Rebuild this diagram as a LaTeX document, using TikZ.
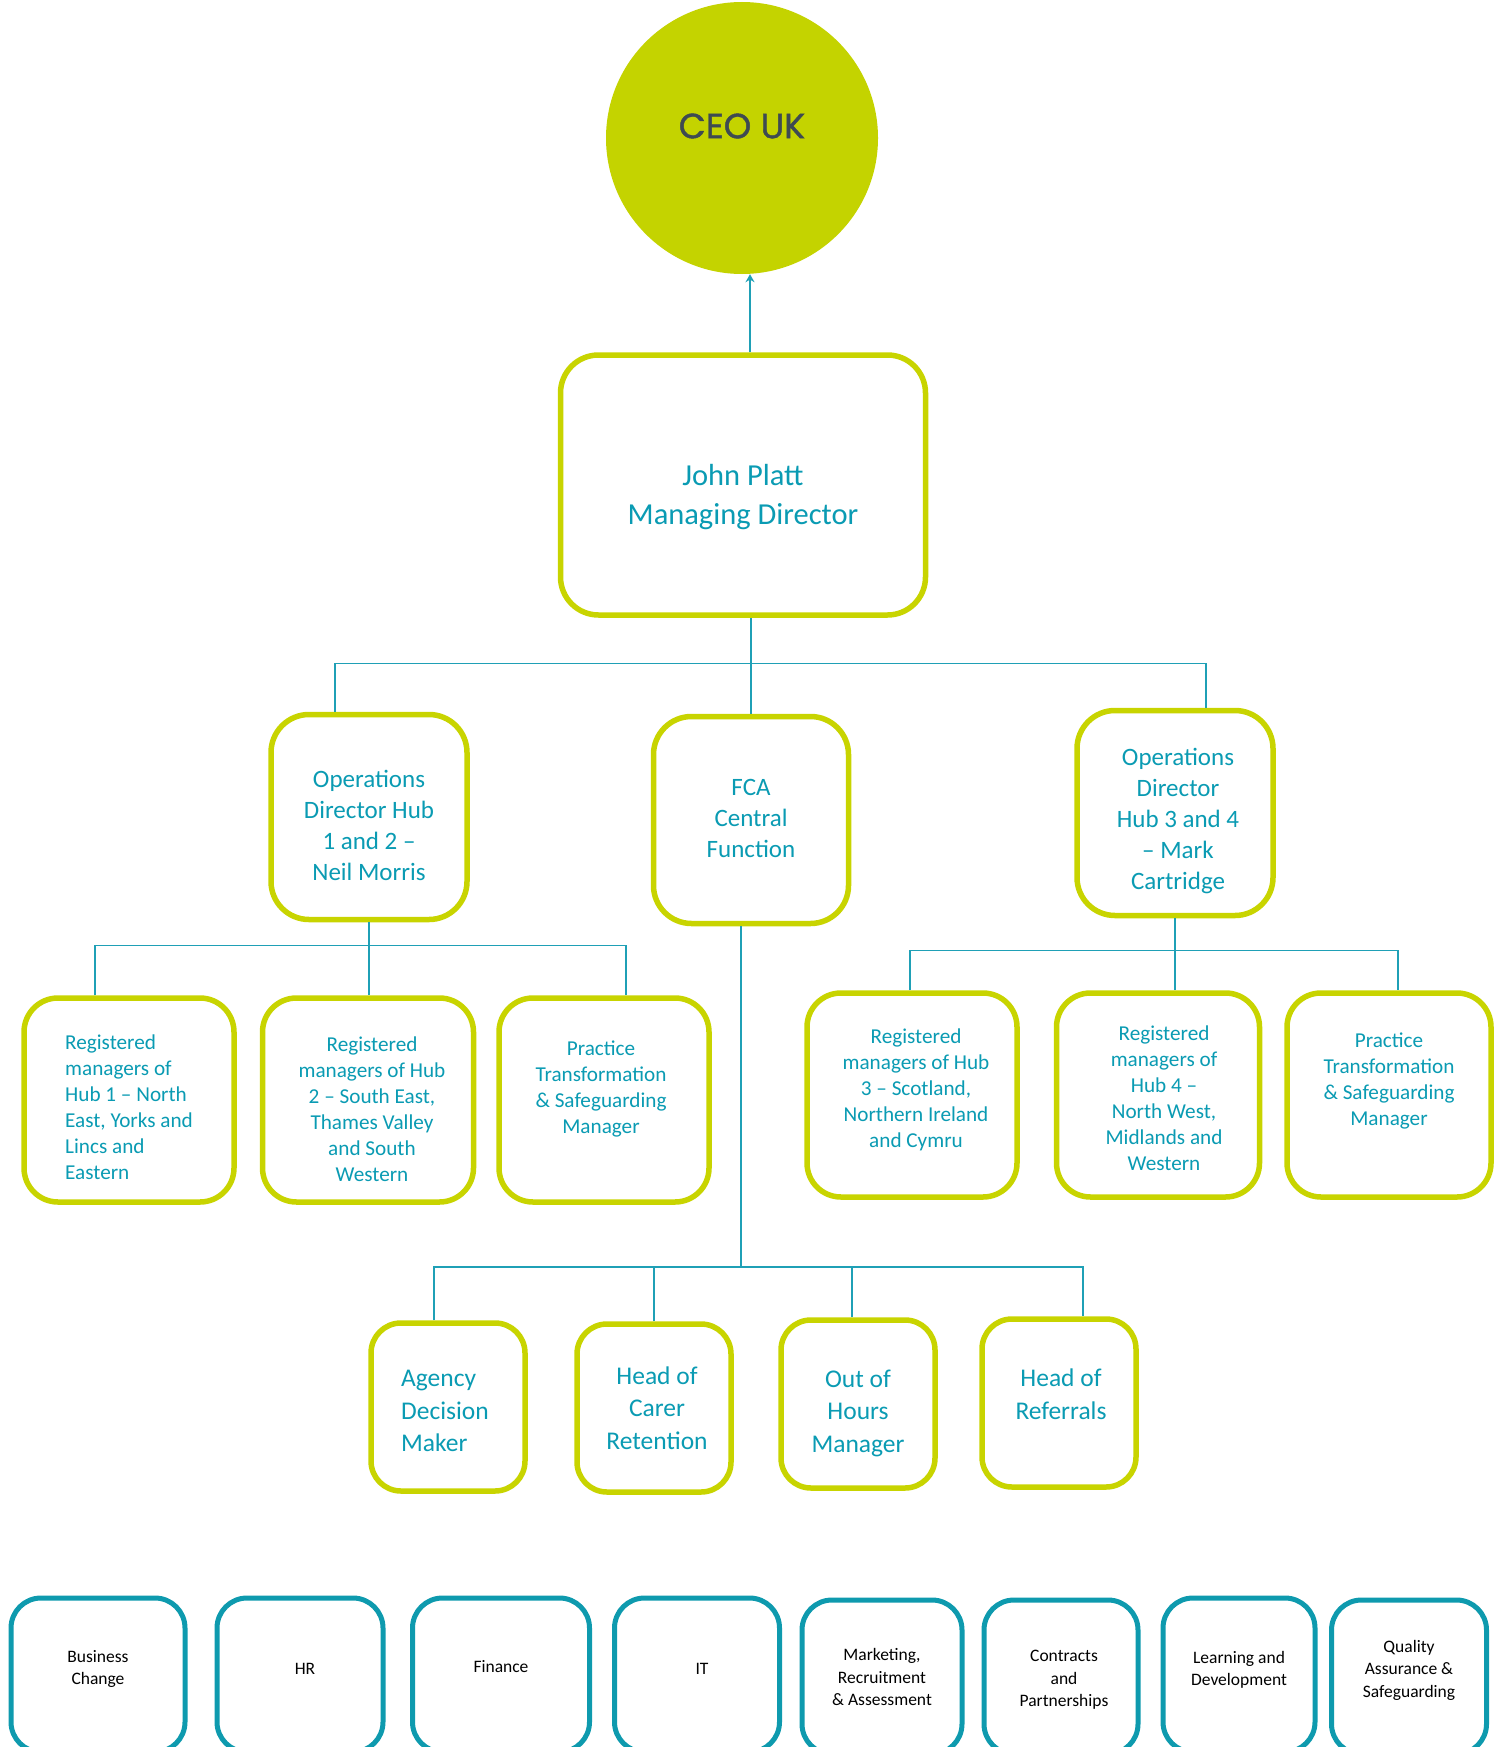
\documentclass[tikz,border=0pt]{standalone}
\usepackage{fontspec}
\setmainfont{Carlito}
\newfontfamily\ceofont[FakeBold=1.3]{Poppins}
\usetikzlibrary{arrows.meta}
\definecolor{limeline}{HTML}{C8D400}
\definecolor{limefill}{HTML}{C4D300}
\definecolor{tealtext}{HTML}{0A9BB3}
\definecolor{tealline}{HTML}{1FA0B6}
\definecolor{tealedge}{HTML}{0E9AAE}
\definecolor{ceogrey}{HTML}{3E4A52}

\tikzset{
  limebox/.style={draw=limeline, line width=5.5pt, rounded corners=38pt, fill=white, inner sep=0pt},
  dirbox/.style={limebox, minimum width=196pt, minimum height=205pt},
  mgrbox/.style={limebox, rounded corners=34pt, minimum width=209pt, minimum height=204pt},
  headbox/.style={limebox, rounded corners=30pt, minimum width=154pt, minimum height=168pt},
  deptbox/.style={draw=tealedge, line width=5pt, rounded corners=30pt, fill=white,
    inner sep=0pt, minimum height=154pt},
  boxtext/.style={text=tealtext, align=center, inner sep=0pt},
  mdtext/.style={boxtext, font=\fontsize{30.5}{39}\selectfont},
  dirtext/.style={boxtext, font=\fontsize{25}{31}\selectfont},
  mgrtext/.style={boxtext, font=\fontsize{21.2}{26}\selectfont},
  headtext/.style={boxtext, font=\fontsize{25.5}{32.5}\selectfont},
  depttext/.style={boxtext, text=black, font=\fontsize{17.5}{22.5}\selectfont},
  link/.style={draw=tealline, line width=1.3pt},
}

\begin{document}
\begin{tikzpicture}[x=1pt, y=-1pt]
\useasboundingbox (0,0) rectangle (1505,1747);

% top of the chart
\node[circle, fill=limefill, minimum size=272pt, inner sep=0pt,
  label={[font=\ceofont\fontsize{35}{40}\selectfont, text=ceogrey, yshift=12pt]center:CEO UK}]
  (ceo) at (742,138) {};
\node[limebox, minimum width=365pt, minimum height=260pt,
  label={[mdtext, yshift=-12pt]center:{John Platt\\Managing Director}}] (md) at (743,485) {};
\draw[link, -{Stealth[length=8pt, width=9pt]}] ([xshift=7pt]md.north) -- ([xshift=7pt]md.north |- ceo.south);

% directors
\node[dirbox, label={[dirtext, yshift=-8pt]center:{Operations\\Director Hub\\1 and 2 –\\Neil Morris}}]
  (opsA) at (369,817) {};
\node[dirbox, minimum width=195pt, minimum height=207pt,
  label={[dirtext, yshift=2pt]center:{FCA\\Central\\Function}}] (fca) at (751,820) {};
\node[dirbox, label={[dirtext, yshift=-8pt, xshift=3pt]center:{Operations\\Director\\Hub 3 and 4\\– Mark\\Cartridge}}]
  (opsB) at (1175,813) {};

\draw[link] (fca.north) -- (fca.north |- md.south);
\draw[link] ([xshift=-34pt]opsA.north) |- ([yshift=50pt]fca.north) -| ([xshift=31pt]opsB.north);

% hub managers
\node[mgrbox, minimum width=210pt,
  label={[mgrtext, align=left, yshift=-7pt]center:{Registered\\managers of\\Hub 1 – North\\East, Yorks and\\Lincs and\\Eastern}}]
  (rmA) at (129,1100) {};
\node[mgrbox, minimum width=211pt,
  label={[mgrtext, yshift=-9pt, xshift=4pt]center:{Registered\\managers of Hub\\2 – South East,\\Thames Valley\\and South\\Western}}]
  (rmB) at (368,1100) {};
\node[mgrbox, minimum width=210pt,
  label={[mgrtext, yshift=11pt, xshift=-3pt]center:{Practice\\Transformation\\\& Safeguarding\\Manager}}]
  (ptA) at (604,1100) {};
\node[mgrbox, minimum width=210pt,
  label={[mgrtext, yshift=5pt, xshift=4pt]center:{Registered\\managers of Hub\\3 – Scotland,\\Northern Ireland\\and Cymru}}]
  (rmC) at (912,1095) {};
\node[mgrbox, minimum width=203pt,
  label={[mgrtext, yshift=-3pt, xshift=6pt]center:{Registered\\managers of\\Hub 4 –\\North West,\\Midlands and\\Western}}]
  (rmD) at (1158,1095) {};
\node[mgrbox, minimum width=204pt,
  label={[mgrtext, yshift=14pt]center:{Practice\\Transformation\\\& Safeguarding\\Manager}}]
  (ptB) at (1389,1095) {};

\draw[link] (opsA.south) -- (opsA.south |- rmB.north);
\draw[link] ([xshift=-34pt]rmA.north) |- ([yshift=-23pt]opsA.south) -| ([xshift=22pt]ptA.north);
\draw[link] (opsB.south) -- (opsB.south |- rmD.north);
\draw[link] ([xshift=-2pt]rmC.north) |- ([yshift=-32pt]opsB.south) -| ([xshift=9pt]ptB.north);

% central function
\node[headbox, label={[headtext, align=left, yshift=-4pt, xshift=-3pt]center:{Agency\\Decision\\Maker}}]
  (adm) at (448,1407) {};
\node[headbox, label={[headtext, xshift=3pt]center:{Head of\\Carer\\Retention}}]
  (hcr) at (654,1408) {};
\node[headbox, label={[headtext, yshift=-9pt]center:{Out of\\Hours\\Manager}}]
  (ooh) at (858,1404) {};
\node[headbox, label={[headtext, yshift=9pt, xshift=2pt]center:{Head of\\Referrals}}]
  (hor) at (1059,1403) {};

\coordinate (fcabus) at (741,1267);
\draw[link] ([xshift=-10pt]fca.south) -- (fcabus);
\draw[link] ([xshift=-14pt]adm.north) |- (fcabus) -| ([xshift=24pt]hor.north);
\draw[link] (hcr.north) -- (hcr.north |- fcabus);
\draw[link] ([xshift=-6pt]ooh.north) -- ([xshift=-6pt]ooh.north |- fcabus);

% support departments
\node[deptbox, minimum width=174pt, label={[depttext, yshift=6pt]center:{Business\\Change}}] (bizchg) at (98,1675) {};
\node[deptbox, minimum width=166pt, label={[depttext, yshift=6pt, xshift=5pt]center:HR}] (hr) at (300,1675) {};
\node[deptbox, minimum width=177pt, label={[depttext, yshift=8pt]center:Finance}] (fin) at (501,1675) {};
\node[deptbox, minimum width=165pt, label={[depttext, yshift=6pt, xshift=5pt]center:IT}] (it) at (697,1675) {};
\node[deptbox, minimum width=160pt, label={[depttext]center:{Marketing,\\Recruitment\\\& Assessment}}] (mkt) at (882,1677) {};
\node[deptbox, minimum width=154pt, label={[depttext, yshift=-3pt, xshift=3pt]center:{Contracts\\and\\Partnerships}}] (ctr) at (1061,1677) {};
\node[deptbox, minimum width=152pt, label={[depttext, yshift=5pt]center:{Learning and\\Development}}] (lnd) at (1239,1675) {};
\node[deptbox, minimum width=155pt, label={[depttext, yshift=7pt]center:{Quality\\Assurance \&\\Safeguarding}}] (qas) at (1409,1677) {};
\end{tikzpicture}
\end{document}
